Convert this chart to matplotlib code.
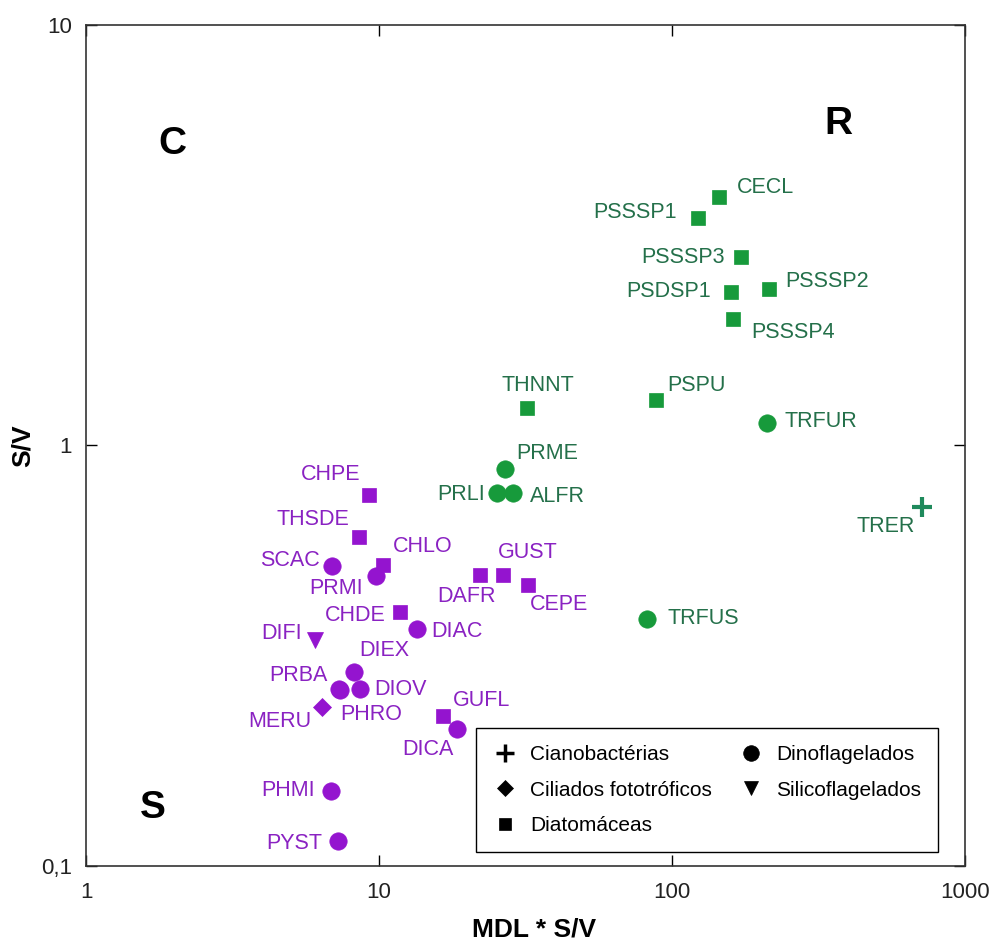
import matplotlib.pyplot as plt
from matplotlib.lines import Line2D

plt.rcParams['font.family'] = ['Liberation Sans', 'DejaVu Sans']

# species codes, MDL*S/V, S/V, group marker, cluster
names = ['CECL', 'PSSSP1', 'PSSSP3', 'PSDSP1', 'PSSSP2', 'PSSSP4', 'THNNT', 'PSPU',
         'TRFUR', 'PRME', 'PRLI', 'ALFR', 'TRER', 'TRFUS',
         'GUST', 'DAFR', 'CEPE', 'CHPE', 'THSDE', 'SCAC', 'CHLO', 'PRMI', 'CHDE',
         'DIAC', 'DIFI', 'DIEX', 'PRBA', 'PHRO', 'DIOV', 'MERU', 'GUFL', 'DICA',
         'PHMI', 'PYST']
mdl_sv = [144.6, 122.7, 171.5, 158.6, 213.8, 161.9, 32.1, 88.2,
          211.5, 26.9, 25.3, 28.7, 711.0, 82.0,
          26.4, 22.1, 32.3, 9.27, 8.55, 6.90, 10.35, 9.74, 11.8,
          13.45, 6.05, 8.22, 7.32, 7.36, 8.61, 6.37, 16.58, 18.41,
          6.86, 7.26]
sv = [3.90, 3.48, 2.81, 2.32, 2.35, 2.00, 1.226, 1.283,
      1.133, 0.878, 0.770, 0.770, 0.715, 0.387,
      0.492, 0.492, 0.466, 0.763, 0.605, 0.517, 0.520, 0.489, 0.401,
      0.365, 0.345, 0.2886, 0.263, 0.262, 0.263, 0.239, 0.227, 0.212,
      0.1506, 0.1145]
group = ['dia', 'dia', 'dia', 'dia', 'dia', 'dia', 'dia', 'dia',
         'din', 'din', 'din', 'din', 'cia', 'din',
         'dia', 'dia', 'dia', 'dia', 'dia', 'din', 'dia', 'din', 'dia',
         'din', 'sil', 'din', 'din', 'din', 'din', 'cil', 'dia', 'din',
         'din', 'din']
cluster = ['R'] * 14 + ['S'] * 20

# label placement: offset in pixels (x right, y down) and alignment
label_pos = {
    'CECL': (18, -9, 'left'), 'PSSSP1': (-21, -5, 'right'), 'PSSSP3': (-16, 1, 'right'),
    'PSDSP1': (-20, 0, 'right'), 'PSSSP2': (17, -8, 'left'), 'PSSSP4': (18, 14, 'left'),
    'THNNT': (10, -23, 'center'), 'PSPU': (11, -14, 'left'), 'TRFUR': (17, -1, 'left'),
    'PRME': (11, -16, 'left'), 'PRLI': (-12, 1, 'right'), 'ALFR': (17, 3, 'left'),
    'TRER': (-7, 20, 'right'), 'TRFUS': (21, 0, 'left'),
    'GUST': (-5, -22, 'left'), 'DAFR': (-13, 22, 'center'), 'CEPE': (2, 20, 'left'),
    'CHPE': (-9, -20, 'right'), 'THSDE': (-10, -18, 'right'), 'SCAC': (-12, -5, 'right'),
    'CHLO': (9, -18, 'left'), 'PRMI': (-13, 13, 'right'), 'CHDE': (-14, 3, 'right'),
    'DIAC': (15, 2, 'left'), 'DIFI': (-13, -6, 'right'), 'DIEX': (5, -22, 'left'),
    'PRBA': (-12, -14, 'right'), 'PHRO': (0, 25, 'left'), 'DIOV': (14, 0, 'left'),
    'MERU': (-10, 15, 'right'), 'GUFL': (10, -16, 'left'), 'DICA': (-3, 21, 'right'),
    'PHMI': (-16, 0, 'right'), 'PYST': (-16, 2, 'right'),
}

markers = {'cia': ('+', 15), 'cil': ('D', 9), 'dia': ('s', 9.5),
           'din': ('o', 12.5), 'sil': ('v', 11)}
legend_names = {'cia': 'Cianobactérias', 'cil': 'Ciliados fototróficos',
                'dia': 'Diatomáceas', 'din': 'Dinoflagelados', 'sil': 'Silicoflagelados'}
mark_col = {'R': '#179a3b', 'S': '#9414cf'}
text_col = {'R': '#24704a', 'S': '#8a22c2'}

fig = plt.figure(figsize=(9.91, 9.41), dpi=100)
ax = fig.add_axes([0.0868, 0.080, 0.887, 0.8934])
ax.set_xscale('log')
ax.set_yscale('log')
ax.set_xlim(1, 1000)
ax.set_ylim(0.1, 10)

for n, x, y, g, c in zip(names, mdl_sv, sv, group, cluster):
    m, ms = markers[g]
    col = '#1f8a5c' if g == 'cia' else mark_col[c]
    ax.plot(x, y, marker=m, ms=ms, color=col, mec=col, mew=3 if g == 'cia' else 0.5,
            ls='none')
    dx, dy, ha = label_pos[n]
    ax.annotate(n, (x, y), xytext=(dx, -dy), textcoords='offset pixels',
                ha=ha, va='center', fontsize=15.5, color=text_col[c])

# strategy regions (C, R, S), axes fractions
for lab, fx, fy in [('C', 0.098, 0.858), ('R', 0.856, 0.882), ('S', 0.076, 0.069)]:
    ax.text(fx, fy, lab, transform=ax.transAxes, fontsize=28, fontweight='bold',
            ha='center', va='center')

ax.set_xticks([1, 10, 100, 1000])
ax.set_xticklabels(['1', '10', '100', '1000'])
ax.set_yticks([0.1, 1, 10])
ax.set_yticklabels(['0,1', '1', '10'])
ax.minorticks_off()
ax.tick_params(which='major', direction='in', length=8, width=1, labelsize=16,
               top=True, right=True, pad=10, labelcolor='#222222')
ax.tick_params(axis='x', pad=12)
for s in ax.spines.values():
    s.set_linewidth(1.2)
    s.set_color('#333333')

ax.set_xlabel('MDL * S/V', fontsize=19, fontweight='bold')
ax.set_ylabel('S/V', fontsize=19, fontweight='bold')
ax.xaxis.set_label_coords(0.51, -0.061)
ax.yaxis.set_label_coords(-0.058, 0.5)

order = ['cia', 'cil', 'dia', 'din', 'sil']
handles = [Line2D([], [], marker=markers[g][0], ms=markers[g][1] * 0.9, color='black',
                  mew=2.5 if g == 'cia' else 0.5, ls='none') for g in order]
leg = ax.legend(handles, [legend_names[g] for g in order], ncol=2, fontsize=15,
                loc='lower right', bbox_to_anchor=(0.9693, 0.0163), borderaxespad=0,
                fancybox=False, edgecolor='black', framealpha=1, handletextpad=0.6,
                columnspacing=1.3, labelspacing=0.8, borderpad=0.8, handlelength=1.2)
leg.get_frame().set_linewidth(1)

fig.savefig('out.png', dpi=100)
